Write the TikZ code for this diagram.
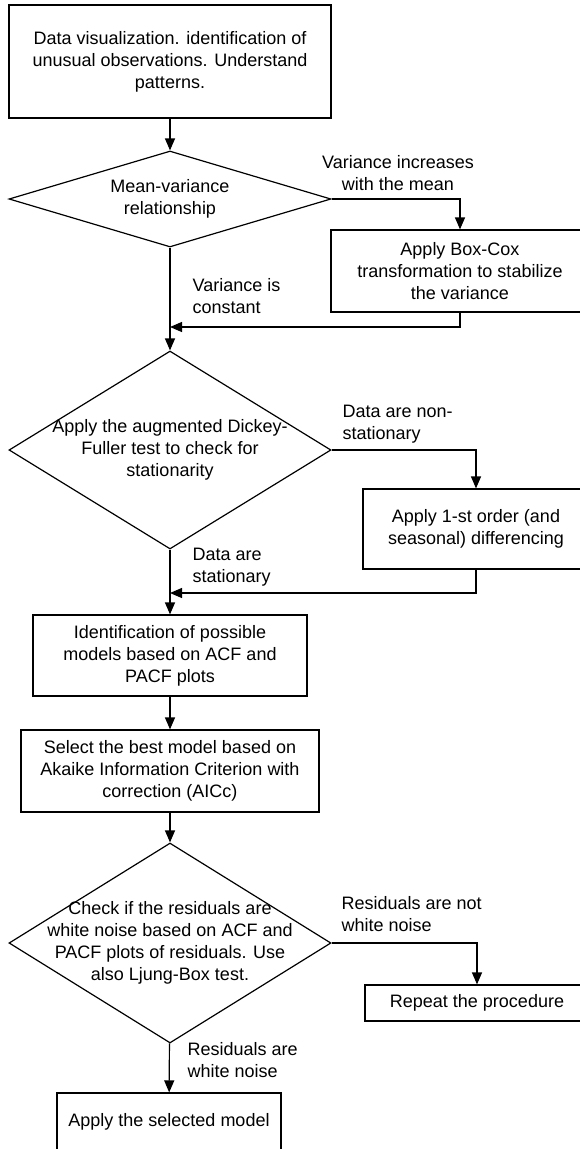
\documentclass[tikz,border=0pt]{standalone}
\usepackage{fontspec}
\setmainfont{Liberation Sans}
\usetikzlibrary{shapes.geometric, arrows.meta}

\begin{document}
\begin{tikzpicture}[x=1pt, y=-1pt, line width=1.2pt,
  txt/.style={font=\fontsize{18}{22}\selectfont, align=center, inner sep=0pt},
  stepbox/.style={txt, draw, rectangle, minimum width=#1},
  decision/.style={draw, diamond, inner sep=0pt, minimum width=322, minimum height=#1},
  lbl/.style={txt, align=left, anchor=west},
  arr/.style={-{Triangle[length=12pt, width=10pt]}}]
\useasboundingbox (0,0) rectangle (580,1149);

% boxes and decisions
\node[stepbox=322, minimum height=113] (B1) at (170,61.5)
  {Data visualization. identification of\\unusual observations. Understand\\patterns.};
\node[decision=96, label={[txt]center:Mean-variance\\relationship}] (D1) at (170,199) {};
\node[stepbox=258, minimum height=82] (B2) at (460,271)
  {Apply Box-Cox\\transformation to stabilize\\the variance};
\node[decision=198, label={[txt]center:Apply the augmented Dickey-\\Fuller test to check for\\stationarity}] (D2) at (170,450) {};
\node[stepbox=226, minimum height=80] (B3) at (476,529)
  {Apply 1-st order (and\\seasonal) differencing};
\node[stepbox=274, minimum height=81] (B4) at (170,655.5)
  {Identification of possible\\models based on ACF and\\PACF plots};
\node[stepbox=298, minimum height=82] (B5) at (170,771)
  {Select the best model based on\\Akaike Information Criterion with\\correction (AICc)};
\node[decision=200, label={[txt]center:Check if the residuals are\\white noise based on ACF and\\PACF plots of residuals. Use\\also Ljung-Box test.}] (D3) at (170,943) {};
\node[stepbox=224, minimum height=36] (B6) at (477,1003) {Repeat the procedure};
\node[stepbox=224, minimum height=58] (B7) at (169,1122) {Apply the selected model};

\coordinate (J1) at (170,327);
\coordinate (J2) at (170,593);

% connectors
\draw[arr] (B1) -- (D1);
\draw[arr] (D1.east) -| (B2.north);
\draw[arr] (D1) -- (D2);
\draw[arr] (B2.south) |- (J1);
\draw[arr] (D2.east) -| (B3.north);
\draw[arr] (D2) -- (B4);
\draw[arr] (B3.south) |- (J2);
\draw[arr] (B4) -- (B5);
\draw[arr] (B5) -- (D3);
\draw[arr] (D3.east) -| (B6.north);
\draw[arr] (D3) -- (B7);

% labels
\node[txt] (L1) at (398,173) {Variance increases\\with the mean};
\node[lbl] (L2) at (192,296) {Variance is\\constant};
\node[lbl] (L3) at (342,424) {Data are non-\\stationary};
\node[lbl] (L4) at (192,567) {Data are\\stationary};
\node[lbl] (L5) at (341,914) {Residuals are not\\white noise};
\node[lbl] (L6) at (187,1060) {Residuals are\\white noise};
\end{tikzpicture}
\end{document}
